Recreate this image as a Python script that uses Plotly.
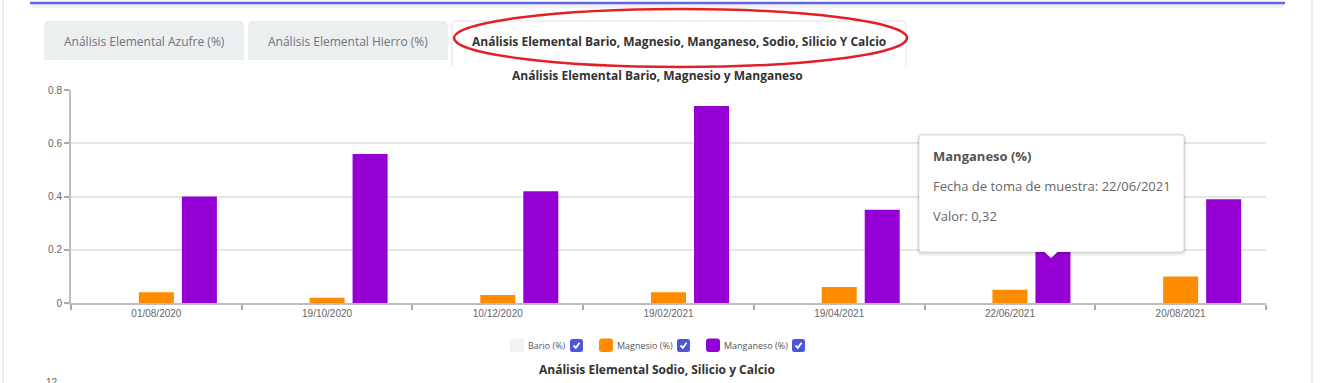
import plotly.graph_objects as go

# ---------------- data ----------------
dates = ["01/08/2020", "19/10/2020", "10/12/2020", "19/02/2021",
         "19/04/2021", "22/06/2021", "20/08/2021"]
bario = [0, 0, 0, 0, 0, 0, 0]
magnesio = [0.04, 0.02, 0.03, 0.04, 0.06, 0.05, 0.10]
manganeso = [0.40, 0.56, 0.42, 0.74, 0.35, 0.32, 0.39]
series_names = ["Bario (%)", "Magnesio (%)", "Manganeso (%)"]
series_colors = ["#f2f2f2", "#ff8c00", "#9400d3"]
tab_labels = ["Análisis Elemental Azufre (%)", "Análisis Elemental Hierro (%)",
              "Análisis Elemental Bario, Magnesio, Manganeso, Sodio, Silicio Y Calcio"]
chart_title = "Análisis Elemental Bario, Magnesio y Manganeso"
next_title = "Análisis Elemental Sodio, Silicio y Calcio"
tooltip_lines = ["Manganeso (%)", "Fecha de toma de muestra: 22/06/2021", "Valor: 0,32"]

# ---------------- geometry helpers (pixel -> paper) ----------------
W, H = 1328, 383
L, R, T, B = 71, 62, 90, 80
PW, PH = W - L - R, H - T - B


def px(x):
    return (x - L) / PW


def py(y):
    return (H - B - y) / PH


def rpath(x0, y0, x1, y1, r, top_only=False, open_bottom=False):
    a, b, c, d = px(x0), py(y0), px(x1), py(y1)
    rx, ry = r / PW, r / PH
    if top_only:
        p = f"M{a},{d} L{a},{b-ry} Q{a},{b} {a+rx},{b} L{c-rx},{b} Q{c},{b} {c},{b-ry} L{c},{d}"
        return p if open_bottom else p + " Z"
    return (f"M{a+rx},{b} L{c-rx},{b} Q{c},{b} {c},{b-ry} L{c},{d+ry} Q{c},{d} {c-rx},{d} "
            f"L{a+rx},{d} Q{a},{d} {a},{d+ry} L{a},{b-ry} Q{a},{b} {a+rx},{b} Z")


fig = go.Figure()
for name, vals, col in zip(series_names, [bario, magnesio, manganeso], series_colors):
    fig.add_trace(go.Bar(x=dates, y=vals, name=name, marker_color=col,
                         marker_line_width=0, showlegend=False))

shapes = []
ann = []
P = dict(xref="paper", yref="paper")


def text(x, y, s, size, color, family="Open Sans", xa="center"):
    ann.append(dict(x=px(x), y=py(y), text=s, showarrow=False, xanchor=xa, yanchor="middle",
                    font=dict(family=family, size=size, color=color), **P))


# page frame lines
shapes.append(dict(type="line", x0=px(3), x1=px(3), y0=py(0), y1=py(383),
                   line=dict(color="#ededed", width=2), **P))
shapes.append(dict(type="line", x0=px(1312), x1=px(1312), y0=py(0), y1=py(383),
                   line=dict(color="#ededed", width=2), **P))
# top card bottom border (blue) with shadow
shapes.append(dict(type="line", x0=px(32), x1=px(1284), y0=py(6), y1=py(6),
                   line=dict(color="rgba(0,0,0,0.05)", width=4), **P))
shapes.append(dict(type="line", x0=px(30), x1=px(1285), y0=py(3), y1=py(3),
                   line=dict(color="#5e69e2", width=2.5), **P))

# tabs
shapes.append(dict(type="path", path=rpath(44, 21, 244, 60, 5, top_only=True),
                   fillcolor="#eceff0", line=dict(width=0), **P))
shapes.append(dict(type="path", path=rpath(248, 21, 448, 60, 5, top_only=True),
                   fillcolor="#eceff0", line=dict(width=0), **P))
shapes.append(dict(type="path", path=rpath(452, 21, 906, 66, 5, top_only=True, open_bottom=True),
                   fillcolor="white", line=dict(color="rgba(0,0,0,0.08)", width=1.5), **P))
text(144, 41, tab_labels[0], 12, "#6c757d")
text(348, 41, tab_labels[1], 12, "#6c757d")
text(679, 41, "<b>" + tab_labels[2] + "</b>", 12, "#333333")
# red ellipse
shapes.append(dict(type="circle", x0=px(454), x1=px(907), y0=py(67), y1=py(9),
                   line=dict(color="#e3202a", width=2.5), **P))

# chart title
text(657, 75, "<b>" + chart_title + "</b>", 12, "#333333")

# custom legend
leg = [(510, 526, 570), (599, 615, 677), (706, 722, 792)]
for (sx, tx, cx), name, col in zip(leg, series_names, series_colors):
    shapes.append(dict(type="path", path=rpath(sx, 338.5, sx + 14, 352, 3),
                       fillcolor=col, line=dict(width=0), **P))
    text(tx, 345.5, name, 9, "#555555", xa="left")
    shapes.append(dict(type="path", path=rpath(cx, 339, cx + 13, 352, 2.5),
                       fillcolor="#4b57d8", line=dict(width=0), **P))
    shapes.append(dict(type="path",
                       path=f"M{px(cx+3.5)},{py(345.5)} L{px(cx+5.8)},{py(347.8)} L{px(cx+9.6)},{py(342.8)}",
                       line=dict(color="white", width=1.8), **P))

# next chart title and cut tick label
text(657, 369, "<b>" + next_title + "</b>", 12, "#333333")
text(60, 382, "12", 10, "#666666", family="Liberation Sans", xa="right")

# tooltip with shadow
for d in [3, 2, 1]:
    shapes.append(dict(type="path", path=rpath(919 - d, 135 - d + 1, 1184 + d, 252 + d + 1, 3 + d),
                       fillcolor="rgba(0,0,0,0.035)", line=dict(width=0), **P))
shapes.append(dict(type="path", path=rpath(919, 135, 1184, 252, 3),
                   fillcolor="white", line=dict(color="rgba(0,0,0,0.12)", width=1), **P))
shapes.append(dict(type="path",
                   path=f"M{px(1044)},{py(251.5)} L{px(1051)},{py(258)} L{px(1058)},{py(251.5)} Z",
                   fillcolor="white", line=dict(width=0), **P))
tt_y = [156, 186, 216]
for i, (txt, yy) in enumerate(zip(tooltip_lines, tt_y)):
    text(931, yy, ("<b>" + txt + "</b>") if i == 0 else txt, 13,
         "#555555" if i == 0 else "#666666", xa="left")

fig.update_layout(
    width=W, height=H,
    margin=dict(l=L, r=R, t=T, b=B, pad=0),
    paper_bgcolor="white", plot_bgcolor="white",
    barmode="group", bargap=0.244, bargroupgap=0.186,
    showlegend=False,
    shapes=shapes, annotations=ann,
    xaxis=dict(type="category", showgrid=False, showline=True, linecolor="#bdbdbd", linewidth=2,
               ticks="outside", tickson="boundaries", ticklen=5, tickcolor="#aaaaaa", tickwidth=1.5,
               tickfont=dict(family="Liberation Sans", size=10, color="#666666"), fixedrange=True),
    yaxis=dict(range=[0, 0.8], dtick=0.2, showgrid=True, gridcolor="#e6e6e6", gridwidth=1.5,
               showline=True, linecolor="#bdbdbd", linewidth=2, zeroline=False,
               ticks="outside", ticklen=5, tickcolor="#aaaaaa", tickwidth=1.5,
               tickfont=dict(family="Liberation Sans", size=10, color="#666666"), fixedrange=True),
)

fig.write_html("out.html", config=dict(displayModeBar=False))
